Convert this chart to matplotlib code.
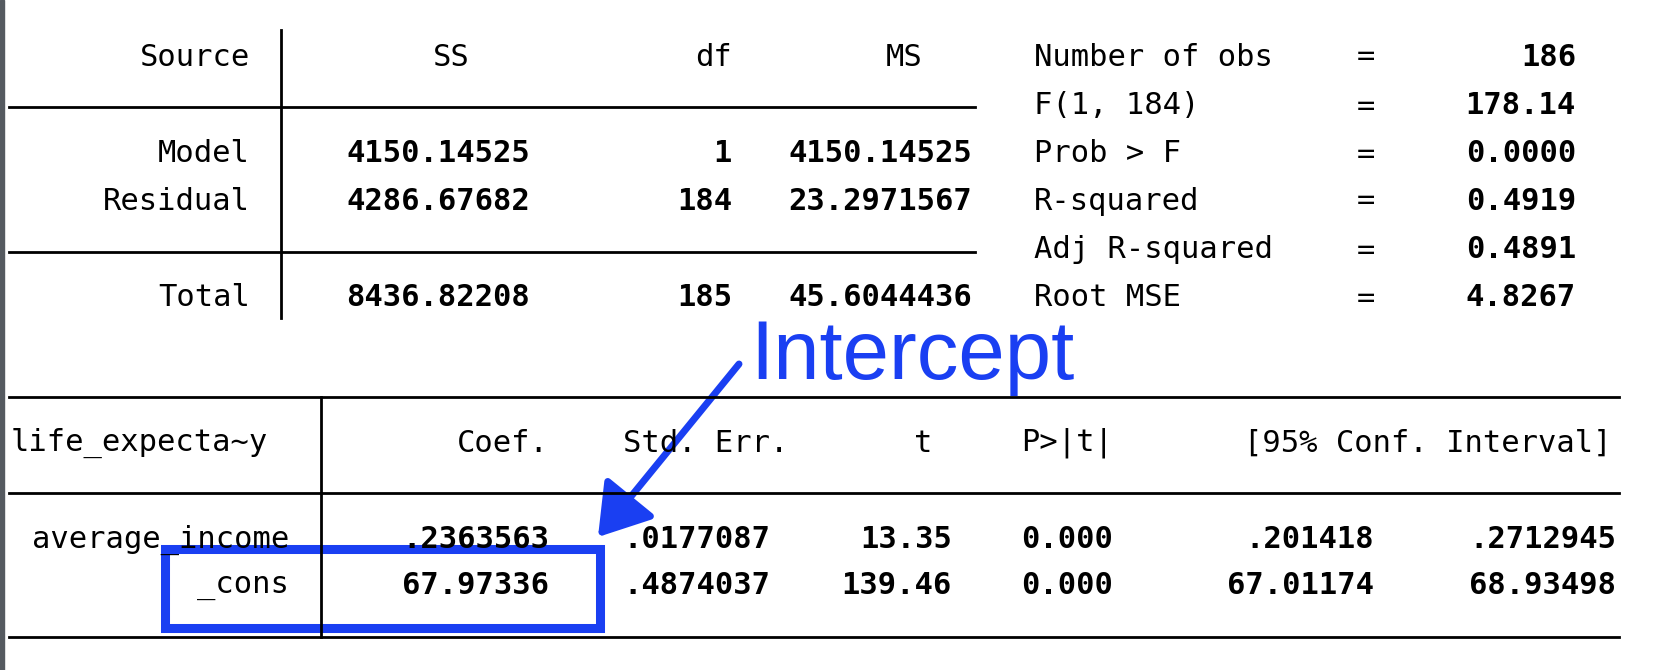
import matplotlib
matplotlib.use("Agg")
import matplotlib.pyplot as plt
from matplotlib.patches import Rectangle, FancyArrowPatch

# ANOVA table
sources = ["Model", "Residual", "Total"]
ss = ["4150.14525", "4286.67682", "8436.82208"]
dfs = ["1", "184", "185"]
ms = ["4150.14525", "23.2971567", "45.6044436"]
anova_rows_y = [154, 201, 298]

stat_labels = ["Number of obs", "F(1, 184)", "Prob > F", "R-squared", "Adj R-squared", "Root MSE"]
stat_values = ["186", "178.14", "0.0000", "0.4919", "0.4891", "4.8267"]
stat_rows_y = [57, 106, 154, 201, 250, 298]

# Coefficient table
depvar = "life_expecta~y"
coef_headers = ["Coef.", "Std. Err.", "t", "P>|t|", "[95% Conf. Interval]"]
vars_ = ["average_income", "_cons"]
coef = [".2363563", "67.97336"]
se = [".0177087", ".4874037"]
tval = ["13.35", "139.46"]
pval = ["0.000", "0.000"]
ci_lo = [".201418", "67.01174"]
ci_hi = [".2712945", "68.93498"]
coef_rows_y = [540, 586]

fig = plt.figure(figsize=(16.58, 6.7), dpi=100)
ax = fig.add_axes([0, 0, 1, 1])
ax.set_xlim(0, 1658)
ax.set_ylim(670, 0)
ax.axis("off")
ax.add_patch(Rectangle((0, 0), 4, 670, color="#555a60"))

mono = dict(family="DejaVu Sans Mono", fontsize=22, va="center")
bold = dict(mono, weight="bold")
lw = 2

# ANOVA header
ax.text(250, 57, "Source", ha="right", **mono)
ax.text(451, 57, "SS", ha="center", **mono)
ax.text(732, 57, "df", ha="right", **mono)
ax.text(904, 57, "MS", ha="center", **mono)
ax.plot([281, 281], [30, 318], color="black", lw=lw)
ax.plot([9, 975], [107, 107], color="black", lw=lw)
ax.plot([9, 975], [252, 252], color="black", lw=lw)
for s, a, b, c, y in zip(sources, ss, dfs, ms, anova_rows_y):
    ax.text(250, y, s, ha="right", **mono)
    ax.text(530, y, a, ha="right", **bold)
    ax.text(732, y, b, ha="right", **bold)
    ax.text(972, y, c, ha="right", **bold)

for l, v, y in zip(stat_labels, stat_values, stat_rows_y):
    ax.text(1034, y, l, ha="left", **mono)
    ax.text(1366, y, "=", ha="center", **mono)
    ax.text(1576, y, v, ha="right", **bold)

# Coefficient table
ax.plot([9, 1619], [397, 397], color="black", lw=lw)
ax.plot([9, 1619], [493, 493], color="black", lw=lw)
ax.plot([9, 1619], [637, 637], color="black", lw=lw)
ax.plot([321, 321], [397, 637], color="black", lw=lw)
ax.text(11, 443, depvar, ha="left", **mono)
hx = [549, 788, 932, 1113, 1612]
for h, x in zip(coef_headers, hx):
    ax.text(x, 443, h, ha="right", **mono)
for i, y in enumerate(coef_rows_y):
    ax.text(289, y, vars_[i], ha="right", **mono)
    ax.text(549, y, coef[i], ha="right", **bold)
    ax.text(770, y, se[i], ha="right", **bold)
    ax.text(952, y, tval[i], ha="right", **bold)
    ax.text(1113, y, pval[i], ha="right", **bold)
    ax.text(1374, y, ci_lo[i], ha="right", **bold)
    ax.text(1616, y, ci_hi[i], ha="right", **bold)

blue = "#1a3ff2"
ax.add_patch(Rectangle((165, 549), 435, 79, fill=False, edgecolor=blue, lw=6.5))
ax.text(750, 379, "Intercept", ha="left", va="baseline", color=blue,
        family="Liberation Sans", fontsize=60)
ax.add_patch(FancyArrowPatch((739, 364), (598, 537), arrowstyle="-|>,head_length=14,head_width=9",
                             color=blue, lw=5, mutation_scale=2.2, shrinkA=0, shrinkB=0))

fig.savefig("out.png", dpi=100)
